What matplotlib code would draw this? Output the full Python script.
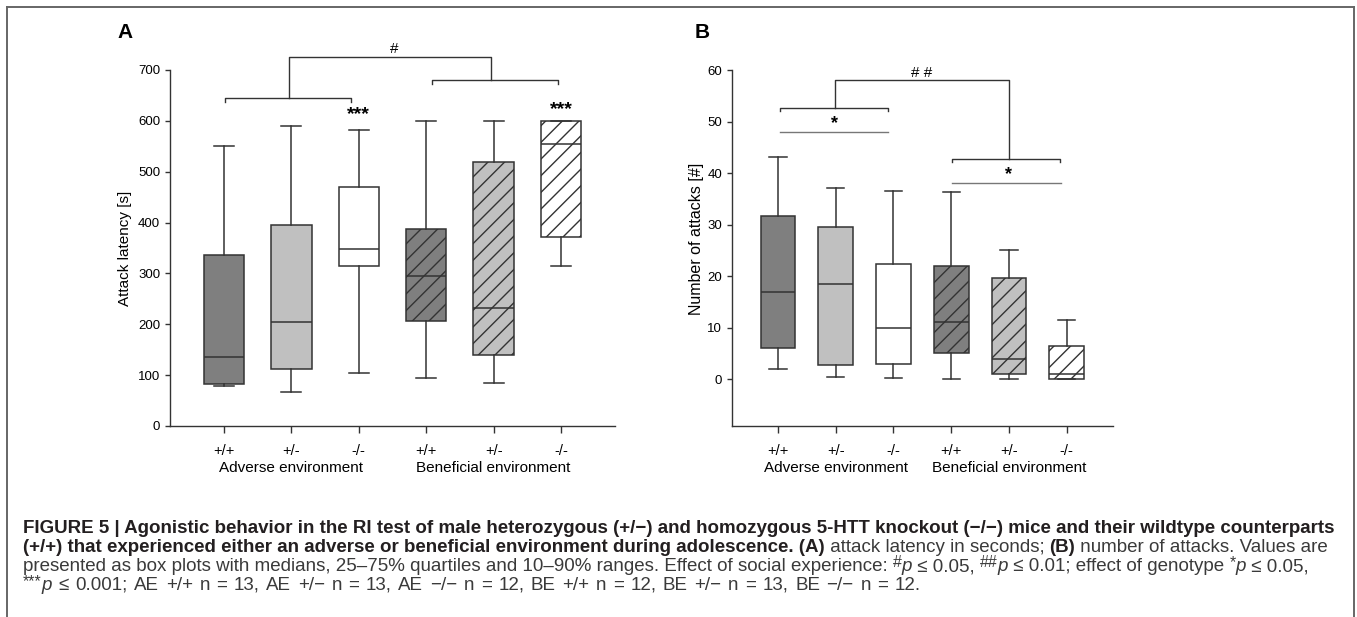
import matplotlib
matplotlib.use("Agg")
import matplotlib.pyplot as plt
from matplotlib.lines import Line2D

# --- data ---
genotypes = ['+/+', '+/-', '-/-', '+/+', '+/-', '-/-']
environments = ['Adverse environment', 'Beneficial environment']

# panel A: attack latency [s]  (10%, 25%, median, 75%, 90%)
latency_whislo = [79, 67, 104, 94.5, 85, 314]
latency_q1 = [83, 111.5, 315, 207, 140, 372]
latency_med = [135, 205, 348, 295, 232, 554]
latency_q3 = [336.5, 396, 469, 388, 520, 600]
latency_whishi = [550, 590, 583, 600, 600, 600]

# panel B: number of attacks
attacks_whislo = [2.0, 0.5, 0.3, 0, 0, 0]
attacks_q1 = [6.0, 2.8, 3.0, 5.2, 1.0, 0]
attacks_med = [17.0, 18.6, 10.0, 11.1, 4.0, 1.0]
attacks_q3 = [31.8, 29.5, 22.3, 22.1, 19.6, 6.5]
attacks_whishi = [43.1, 37.1, 36.6, 36.4, 25.1, 11.5]

W, H = 1357, 617
LINE = '#333333'
fills = ['#7f7f7f', '#c0c0c0', '#ffffff', '#7f7f7f', '#c0c0c0', '#ffffff']
hatches = [None, None, None, '//', '//', '//']
FONT = 'Liberation Sans'

plt.rcParams['font.family'] = FONT
plt.rcParams['hatch.color'] = '#222222'
plt.rcParams['hatch.linewidth'] = 1.0

fig = plt.figure(figsize=(W / 100, H / 100), dpi=100)
positions = list(range(1, 7))


def make_stats(lo, q1, med, q3, hi):
    return [dict(whislo=a, q1=b, med=c, q3=d, whishi=e, fliers=[])
            for a, b, c, d, e in zip(lo, q1, med, q3, hi)]


def box_panel(ax, stats):
    lp = dict(color=LINE, linewidth=1.1)
    art = ax.bxp(stats, positions=positions, widths=0.6, patch_artist=True,
                 showfliers=False, boxprops=dict(edgecolor=LINE, linewidth=1.1),
                 medianprops=lp, whiskerprops=lp, capprops=lp)
    for patch, fc, h in zip(art['boxes'], fills, hatches):
        patch.set_facecolor(fc)
        if h:
            patch.set_hatch(h)
    for s in ['top', 'right']:
        ax.spines[s].set_visible(False)
    for s in ['left', 'bottom']:
        ax.spines[s].set_color(LINE)
        ax.spines[s].set_linewidth(1.0)
    ax.set_xlim(0.2, 6.8)
    ax.set_xticks(positions)
    ax.set_xticklabels(genotypes, fontsize=10.5)
    ax.tick_params(axis='x', length=5, pad=8, color=LINE, width=1)
    ax.tick_params(axis='y', length=3.5, pad=3.5, color=LINE, width=1, labelsize=9.5)
    tr = ax.get_xaxis_transform()
    ax.text(2, -0.118, environments[0], transform=tr, ha='center', va='center', fontsize=11)
    ax.text(5, -0.118, environments[1], transform=tr, ha='center', va='center', fontsize=11)


def bracket(ax, x0, x1, y, drop, color=LINE, ends=True):
    if ends:
        ax.plot([x0, x0, x1, x1], [y - drop, y, y, y - drop], color=color, lw=1, clip_on=False)
    else:
        ax.plot([x0, x1], [y, y], color=color, lw=1, clip_on=False)


# ---------------- panel A ----------------
axA = fig.add_axes([170 / W, 1 - 426 / H, 445 / W, 356 / H])
box_panel(axA, make_stats(latency_whislo, latency_q1, latency_med, latency_q3, latency_whishi))
axA.set_ylim(0, 700)
axA.set_yticks(range(0, 701, 100))
axA.set_ylabel('Attack latency [s]', fontsize=11)
axA.yaxis.set_label_coords(-0.0854, 0.5)

bracket(axA, 1.02, 2.89, 645, 7)
bracket(axA, 4.08, 5.95, 680, 7)
axA.plot([1.97, 1.97, 4.965, 4.965], [645, 726, 726, 680], color=LINE, lw=1, clip_on=False)
axA.text(3.53, 741, '#', ha='center', va='center', fontsize=11)
axA.text(3, 612, '***', ha='center', va='center', fontsize=14, fontweight='bold')
axA.text(6, 622, '***', ha='center', va='center', fontsize=14, fontweight='bold')

# ---------------- panel B ----------------
axB = fig.add_axes([731.7 / W, 1 - 425.7 / H, 381.3 / W, 355.4 / H])
box_panel(axB, make_stats(attacks_whislo, attacks_q1, attacks_med, attacks_q3, attacks_whishi))
axB.set_ylim(-9, 60)
axB.set_yticks(range(0, 61, 10))
axB.set_ylabel('Number of attacks [#]', fontsize=11.5)
axB.yaxis.set_label_coords(-0.0726, 0.525)

bracket(axB, 1.03, 2.90, 52.75, 0.7)
bracket(axB, 1.03, 2.91, 48.0, 0, color='#777777', ends=False)
axB.text(1.98, 49.6, '*', ha='center', va='center', fontsize=13, fontweight='bold')
bracket(axB, 4.01, 5.88, 42.8, 0.7)
bracket(axB, 4.01, 5.90, 38.2, 0, color='#777777', ends=False)
axB.text(4.99, 39.8, '*', ha='center', va='center', fontsize=13, fontweight='bold')
axB.plot([1.99, 1.99, 5.0, 5.0], [52.75, 58.1, 58.1, 42.8], color=LINE, lw=1, clip_on=False)
axB.text(3.49, 59.5, '# #', ha='center', va='center', fontsize=11)

# panel letters
fig.text(117 / W, 1 - 33 / H, 'A', fontsize=15, fontweight='bold', va='center')
fig.text(695 / W, 1 - 33 / H, 'B', fontsize=15, fontweight='bold', va='center')

# frame around the figure
frame = dict(color='#666666', lw=1.4, transform=fig.transFigure)
fig.add_artist(Line2D([7 / W, 7 / W], [0, 1 - 7 / H], **frame))
fig.add_artist(Line2D([7 / W, 1354 / W], [1 - 7 / H, 1 - 7 / H], **frame))
fig.add_artist(Line2D([1354 / W, 1354 / W], [0, 1 - 7 / H], **frame))

# ---------------- caption ----------------
renderer = fig.canvas.get_renderer()


def run_kw(kind, size):
    kw = dict(fontsize=size, family=FONT, color='#3a3a3a')
    if kind == 'b':
        kw.update(fontweight='bold', color='#231f20')
    elif kind == 'i':
        kw.update(style='italic')
    elif kind == 'sup':
        kw.update(fontsize=size * 0.85)
    return kw


def text_width(txt, kw):
    a = fig.text(0, 0, '|' + txt + '|', **kw)
    b = fig.text(0, 0, '||', **kw)
    w = a.get_window_extent(renderer).width - b.get_window_extent(renderer).width
    a.remove()
    b.remove()
    return w


def draw_runs(x, y, runs, size, extra=0.0):
    for txt, kind in runs:
        kw = run_kw(kind, size)
        yy = y - 4 if kind == 'sup' else y
        if extra and kind == 'r':
            # widen word gaps (the original sets these parts with math spacing)
            words = txt.split(' ')
            space = text_width(' ', kw) + extra
            for i, wd in enumerate(words):
                if wd:
                    fig.text(x / W, 1 - yy / H, wd, va='baseline', ha='left', **kw)
                    x += text_width(wd, kw)
                if i < len(words) - 1:
                    x += space
        else:
            fig.text(x / W, 1 - yy / H, txt, va='baseline', ha='left', **kw)
            x += text_width(txt, kw)


line1 = [('FIGURE 5 | Agonistic behavior in the RI test of male heterozygous (+/\u2212) and '
          'homozygous 5-HTT knockout (\u2212/\u2212) mice and their wildtype counterparts', 'b')]
line2 = [('(+/+) that experienced either an adverse or beneficial environment during adolescence. (A)', 'b'),
         (' attack latency in seconds; ', 'r'), ('(B)', 'b'),
         (' number of attacks. Values are', 'r')]
line3 = [('presented as box plots with medians, 25\u201375% quartiles and 10\u201390% ranges. '
          'Effect of social experience: ', 'r'),
         ('#', 'sup'), ('p', 'i'), (' \u2264 0.05, ', 'r'),
         ('##', 'sup'), ('p', 'i'), (' \u2264 0.01; effect of genotype ', 'r'),
         ('*', 'sup'), ('p', 'i'), (' \u2264 0.05,', 'r')]
line4 = [('***', 'sup'), ('p', 'i'),
         (' \u2264 0.001; AE +/+ n = 13, AE +/\u2212 n = 13, AE \u2212/\u2212 n = 12, '
          'BE +/+ n = 12, BE +/\u2212 n = 13, BE \u2212/\u2212 n = 12.', 'r')]

# size the caption so the first line spans the same width as the original
cap_size = 10 * 1313 / text_width(line1[0][0], run_kw('b', 10))
draw_runs(23, 533, line1, cap_size)
draw_runs(23, 552, line2, cap_size)
draw_runs(23, 571, line3, cap_size)
draw_runs(23, 590, line4, cap_size, extra=1.3)

fig.savefig('out.png', dpi=100)
